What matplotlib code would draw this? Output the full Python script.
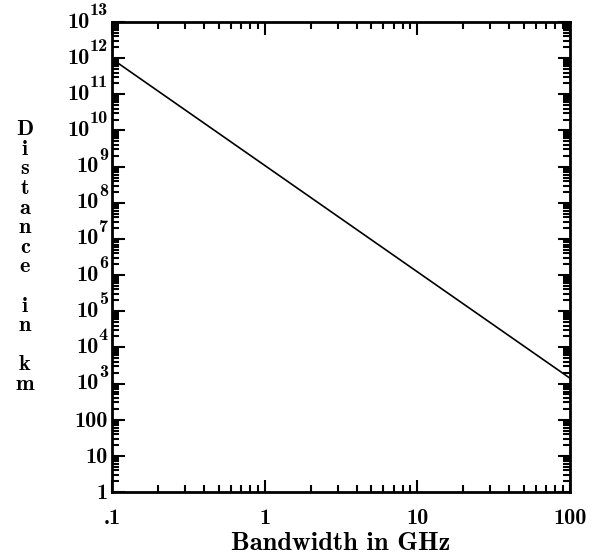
import numpy as np
import matplotlib
matplotlib.use("Agg")
import matplotlib.pyplot as plt
from matplotlib.ticker import LogLocator, FixedLocator, FixedFormatter, NullFormatter
from matplotlib.transforms import ScaledTranslation

plt.rcParams["font.family"] = ["cmb10", "DejaVu Serif"]
plt.rcParams["axes.unicode_minus"] = False

# line end points
bandwidth_ghz = [0.1, 100]
distance_km = [9.5e11, 1.4e3]

xticks = [0.1, 1, 10, 100]
xlabels = [".1", "1", "10", "100"]
yticks = [10.0**k for k in range(14)]
ylabels = ["1", "10", "100"] + [""] * 11
yexps = list(range(3, 14))

TICK_FS = 16
SUP_FS = 13

fig = plt.figure(figsize=(5.94, 5.59), dpi=100)
ax = fig.add_axes([0.1886, 0.1199, 0.771, 0.8407])

ax.plot(bandwidth_ghz, distance_km, color="black", linewidth=1.2)
ax.set_xscale("log")
ax.set_yscale("log")
ax.set_xlim(0.1, 100)
ax.set_ylim(1, 1e13)

ax.xaxis.set_major_locator(FixedLocator(xticks))
ax.xaxis.set_major_formatter(FixedFormatter(xlabels))
ax.yaxis.set_major_locator(FixedLocator(yticks))
ax.yaxis.set_major_formatter(FixedFormatter(ylabels))
ax.xaxis.set_minor_locator(LogLocator(base=10, subs=np.arange(2, 10), numticks=20))
ax.yaxis.set_minor_locator(LogLocator(base=10, subs=np.arange(2, 10), numticks=30))
ax.xaxis.set_minor_formatter(NullFormatter())
ax.yaxis.set_minor_formatter(NullFormatter())

ax.tick_params(which="both", direction="in", top=True, right=True, width=1.5,
               labelsize=TICK_FS)
ax.tick_params(which="major", length=9)
ax.tick_params(which="minor", length=5)
ax.tick_params(axis="x", pad=12)
ax.tick_params(axis="y", pad=3)
for s in ax.spines.values():
    s.set_linewidth(2)

# powers of ten with a large superscript, like the original
sup_tr = ax.get_yaxis_transform() + ScaledTranslation(-4 / 100, 4 / 100, fig.dpi_scale_trans)
for k in yexps:
    sup = ax.text(0, 10.0**k, str(k), transform=sup_tr, ha="right", va="bottom",
                  fontsize=SUP_FS)
    ax.annotate("10", xy=(0, 0), xycoords=sup, xytext=(0, -4 * 0.72),
                textcoords="offset points", ha="right", va="center", fontsize=TICK_FS)

ax.set_xlabel("Bandwidth in GHz", fontsize=19, labelpad=3)
fig.text(0.042, 0.785, "D\ni\ns\nt\na\nn\nc\ne\n\ni\nn\n\nk\nm", fontsize=16,
         ha="center", va="top", linespacing=1.04)

plt.savefig("out.png", dpi=100)
plt.close()
